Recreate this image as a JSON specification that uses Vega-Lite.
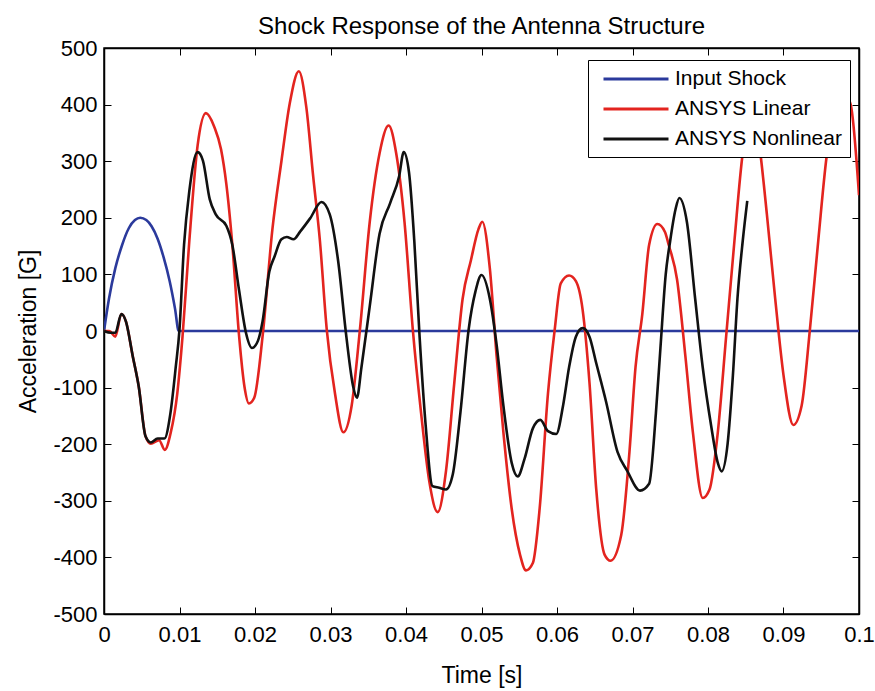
{
  "$schema": "https://vega.github.io/schema/vega-lite/v6.json",
  "width": 755,
  "height": 566,
  "autosize": {"type": "none"},
  "padding": {"left": 104, "top": 48, "right": 16, "bottom": 77},
  "background": "white",
  "title": {"text": "Shock Response of the Antenna Structure", "fontSize": 24, "fontWeight": "normal", "font": "Liberation Sans", "color": "#000", "offset": -21, "baseline": "alphabetic", "anchor": "middle"},
  "config": {
    "font": "Liberation Sans",
    "view": {"stroke": "#000", "strokeWidth": 1.5},
    "axis": {"labelFont": "Liberation Sans", "labelFontSize": 22, "labelColor": "#000", "titleFont": "Liberation Sans", "titleFontSize": 23, "titleFontWeight": "normal", "titleColor": "#000", "domainColor": "#000", "domainWidth": 1.5, "tickColor": "#000", "tickWidth": 1, "grid": false}
  },
  "datasets": {
    "curves": [
      {"t": 0.0, "a": 0, "s": "Input Shock"},
      {"t": 0.00066, "a": 57, "s": "Input Shock"},
      {"t": 0.0015, "a": 111, "s": "Input Shock"},
      {"t": 0.0024, "a": 152, "s": "Input Shock"},
      {"t": 0.0033, "a": 182, "s": "Input Shock"},
      {"t": 0.0041, "a": 196, "s": "Input Shock"},
      {"t": 0.0048, "a": 200, "s": "Input Shock"},
      {"t": 0.0056, "a": 196, "s": "Input Shock"},
      {"t": 0.0063, "a": 185, "s": "Input Shock"},
      {"t": 0.0071, "a": 163, "s": "Input Shock"},
      {"t": 0.0079, "a": 130, "s": "Input Shock"},
      {"t": 0.0087, "a": 88, "s": "Input Shock"},
      {"t": 0.0094, "a": 40, "s": "Input Shock"},
      {"t": 0.0099, "a": 0, "s": "Input Shock"},
      {"t": 0.1, "a": 0, "s": "Input Shock"},

      {"t": 0.0, "a": 0, "s": "ANSYS Linear"},
      {"t": 0.0007, "a": 0, "s": "ANSYS Linear"},
      {"t": 0.0015, "a": -10, "s": "ANSYS Linear"},
      {"t": 0.0023, "a": 30, "s": "ANSYS Linear"},
      {"t": 0.0029, "a": 17, "s": "ANSYS Linear"},
      {"t": 0.0038, "a": -44, "s": "ANSYS Linear"},
      {"t": 0.0046, "a": -98, "s": "ANSYS Linear"},
      {"t": 0.0055, "a": -186, "s": "ANSYS Linear"},
      {"t": 0.0062, "a": -199, "s": "ANSYS Linear"},
      {"t": 0.0073, "a": -193, "s": "ANSYS Linear"},
      {"t": 0.00805, "a": -210, "s": "ANSYS Linear"},
      {"t": 0.00885, "a": -179, "s": "ANSYS Linear"},
      {"t": 0.0097, "a": -111, "s": "ANSYS Linear"},
      {"t": 0.0104, "a": -10, "s": "ANSYS Linear"},
      {"t": 0.0113, "a": 159, "s": "ANSYS Linear"},
      {"t": 0.0124, "a": 328, "s": "ANSYS Linear"},
      {"t": 0.0135, "a": 385, "s": "ANSYS Linear"},
      {"t": 0.0146, "a": 361, "s": "ANSYS Linear"},
      {"t": 0.0155, "a": 321, "s": "ANSYS Linear"},
      {"t": 0.0162, "a": 260, "s": "ANSYS Linear"},
      {"t": 0.017, "a": 152, "s": "ANSYS Linear"},
      {"t": 0.0179, "a": -10, "s": "ANSYS Linear"},
      {"t": 0.0186, "a": -98, "s": "ANSYS Linear"},
      {"t": 0.0192, "a": -128, "s": "ANSYS Linear"},
      {"t": 0.0199, "a": -118, "s": "ANSYS Linear"},
      {"t": 0.021, "a": -10, "s": "ANSYS Linear"},
      {"t": 0.0223, "a": 179, "s": "ANSYS Linear"},
      {"t": 0.0235, "a": 300, "s": "ANSYS Linear"},
      {"t": 0.0246, "a": 402, "s": "ANSYS Linear"},
      {"t": 0.0258, "a": 459, "s": "ANSYS Linear"},
      {"t": 0.0268, "a": 395, "s": "ANSYS Linear"},
      {"t": 0.0277, "a": 274, "s": "ANSYS Linear"},
      {"t": 0.0286, "a": 159, "s": "ANSYS Linear"},
      {"t": 0.0295, "a": 3, "s": "ANSYS Linear"},
      {"t": 0.0306, "a": -111, "s": "ANSYS Linear"},
      {"t": 0.0317, "a": -179, "s": "ANSYS Linear"},
      {"t": 0.0328, "a": -132, "s": "ANSYS Linear"},
      {"t": 0.0339, "a": 3, "s": "ANSYS Linear"},
      {"t": 0.0352, "a": 193, "s": "ANSYS Linear"},
      {"t": 0.0365, "a": 314, "s": "ANSYS Linear"},
      {"t": 0.0377, "a": 363, "s": "ANSYS Linear"},
      {"t": 0.0387, "a": 314, "s": "ANSYS Linear"},
      {"t": 0.0398, "a": 193, "s": "ANSYS Linear"},
      {"t": 0.0409, "a": 3, "s": "ANSYS Linear"},
      {"t": 0.042, "a": -145, "s": "ANSYS Linear"},
      {"t": 0.0431, "a": -267, "s": "ANSYS Linear"},
      {"t": 0.0442, "a": -320, "s": "ANSYS Linear"},
      {"t": 0.0453, "a": -247, "s": "ANSYS Linear"},
      {"t": 0.0464, "a": -91, "s": "ANSYS Linear"},
      {"t": 0.0475, "a": 57, "s": "ANSYS Linear"},
      {"t": 0.0486, "a": 125, "s": "ANSYS Linear"},
      {"t": 0.0496, "a": 180, "s": "ANSYS Linear"},
      {"t": 0.0501, "a": 193, "s": "ANSYS Linear"},
      {"t": 0.0511, "a": 111, "s": "ANSYS Linear"},
      {"t": 0.052, "a": -44, "s": "ANSYS Linear"},
      {"t": 0.0529, "a": -179, "s": "ANSYS Linear"},
      {"t": 0.054, "a": -314, "s": "ANSYS Linear"},
      {"t": 0.0551, "a": -395, "s": "ANSYS Linear"},
      {"t": 0.0559, "a": -423, "s": "ANSYS Linear"},
      {"t": 0.0568, "a": -410, "s": "ANSYS Linear"},
      {"t": 0.0577, "a": -314, "s": "ANSYS Linear"},
      {"t": 0.0588, "a": -111, "s": "ANSYS Linear"},
      {"t": 0.0597, "a": 3, "s": "ANSYS Linear"},
      {"t": 0.0605, "a": 84, "s": "ANSYS Linear"},
      {"t": 0.0616, "a": 98, "s": "ANSYS Linear"},
      {"t": 0.0625, "a": 88, "s": "ANSYS Linear"},
      {"t": 0.0634, "a": 37, "s": "ANSYS Linear"},
      {"t": 0.0643, "a": -91, "s": "ANSYS Linear"},
      {"t": 0.0652, "a": -280, "s": "ANSYS Linear"},
      {"t": 0.0663, "a": -395, "s": "ANSYS Linear"},
      {"t": 0.0671, "a": -406, "s": "ANSYS Linear"},
      {"t": 0.0685, "a": -361, "s": "ANSYS Linear"},
      {"t": 0.0696, "a": -213, "s": "ANSYS Linear"},
      {"t": 0.0704, "a": -64, "s": "ANSYS Linear"},
      {"t": 0.0713, "a": 30, "s": "ANSYS Linear"},
      {"t": 0.0722, "a": 152, "s": "ANSYS Linear"},
      {"t": 0.0733, "a": 189, "s": "ANSYS Linear"},
      {"t": 0.0743, "a": 175, "s": "ANSYS Linear"},
      {"t": 0.0748, "a": 152, "s": "ANSYS Linear"},
      {"t": 0.0759, "a": 91, "s": "ANSYS Linear"},
      {"t": 0.077, "a": -44, "s": "ANSYS Linear"},
      {"t": 0.078, "a": -179, "s": "ANSYS Linear"},
      {"t": 0.0793, "a": -295, "s": "ANSYS Linear"},
      {"t": 0.0802, "a": -280, "s": "ANSYS Linear"},
      {"t": 0.0813, "a": -179, "s": "ANSYS Linear"},
      {"t": 0.0824, "a": -10, "s": "ANSYS Linear"},
      {"t": 0.0835, "a": 159, "s": "ANSYS Linear"},
      {"t": 0.0846, "a": 314, "s": "ANSYS Linear"},
      {"t": 0.0855, "a": 375, "s": "ANSYS Linear"},
      {"t": 0.0862, "a": 385, "s": "ANSYS Linear"},
      {"t": 0.087, "a": 307, "s": "ANSYS Linear"},
      {"t": 0.0878, "a": 206, "s": "ANSYS Linear"},
      {"t": 0.0889, "a": 57, "s": "ANSYS Linear"},
      {"t": 0.09, "a": -78, "s": "ANSYS Linear"},
      {"t": 0.0913, "a": -166, "s": "ANSYS Linear"},
      {"t": 0.0924, "a": -132, "s": "ANSYS Linear"},
      {"t": 0.0935, "a": 3, "s": "ANSYS Linear"},
      {"t": 0.0946, "a": 159, "s": "ANSYS Linear"},
      {"t": 0.0957, "a": 307, "s": "ANSYS Linear"},
      {"t": 0.0968, "a": 390, "s": "ANSYS Linear"},
      {"t": 0.0979, "a": 425, "s": "ANSYS Linear"},
      {"t": 0.0989, "a": 400, "s": "ANSYS Linear"},
      {"t": 0.1, "a": 240, "s": "ANSYS Linear"},

      {"t": 0.0, "a": 0, "s": "ANSYS Nonlinear"},
      {"t": 0.0009, "a": -3, "s": "ANSYS Nonlinear"},
      {"t": 0.0015, "a": -3, "s": "ANSYS Nonlinear"},
      {"t": 0.0023, "a": 30, "s": "ANSYS Nonlinear"},
      {"t": 0.0029, "a": 17, "s": "ANSYS Nonlinear"},
      {"t": 0.0038, "a": -44, "s": "ANSYS Nonlinear"},
      {"t": 0.0046, "a": -98, "s": "ANSYS Nonlinear"},
      {"t": 0.0055, "a": -186, "s": "ANSYS Nonlinear"},
      {"t": 0.0062, "a": -197, "s": "ANSYS Nonlinear"},
      {"t": 0.0071, "a": -190, "s": "ANSYS Nonlinear"},
      {"t": 0.008, "a": -190, "s": "ANSYS Nonlinear"},
      {"t": 0.0088, "a": -145, "s": "ANSYS Nonlinear"},
      {"t": 0.0095, "a": -64, "s": "ANSYS Nonlinear"},
      {"t": 0.01, "a": 3, "s": "ANSYS Nonlinear"},
      {"t": 0.0106, "a": 152, "s": "ANSYS Nonlinear"},
      {"t": 0.0113, "a": 247, "s": "ANSYS Nonlinear"},
      {"t": 0.0124, "a": 316, "s": "ANSYS Nonlinear"},
      {"t": 0.0131, "a": 301, "s": "ANSYS Nonlinear"},
      {"t": 0.014, "a": 233, "s": "ANSYS Nonlinear"},
      {"t": 0.0148, "a": 206, "s": "ANSYS Nonlinear"},
      {"t": 0.0162, "a": 186, "s": "ANSYS Nonlinear"},
      {"t": 0.017, "a": 152, "s": "ANSYS Nonlinear"},
      {"t": 0.0179, "a": 71, "s": "ANSYS Nonlinear"},
      {"t": 0.0188, "a": -3, "s": "ANSYS Nonlinear"},
      {"t": 0.0196, "a": -30, "s": "ANSYS Nonlinear"},
      {"t": 0.0204, "a": -17, "s": "ANSYS Nonlinear"},
      {"t": 0.021, "a": 17, "s": "ANSYS Nonlinear"},
      {"t": 0.0219, "a": 105, "s": "ANSYS Nonlinear"},
      {"t": 0.0226, "a": 132, "s": "ANSYS Nonlinear"},
      {"t": 0.0235, "a": 162, "s": "ANSYS Nonlinear"},
      {"t": 0.0242, "a": 166, "s": "ANSYS Nonlinear"},
      {"t": 0.0251, "a": 162, "s": "ANSYS Nonlinear"},
      {"t": 0.026, "a": 176, "s": "ANSYS Nonlinear"},
      {"t": 0.0273, "a": 199, "s": "ANSYS Nonlinear"},
      {"t": 0.0288, "a": 228, "s": "ANSYS Nonlinear"},
      {"t": 0.0299, "a": 206, "s": "ANSYS Nonlinear"},
      {"t": 0.031, "a": 125, "s": "ANSYS Nonlinear"},
      {"t": 0.0321, "a": -10, "s": "ANSYS Nonlinear"},
      {"t": 0.033, "a": -98, "s": "ANSYS Nonlinear"},
      {"t": 0.0335, "a": -118, "s": "ANSYS Nonlinear"},
      {"t": 0.0341, "a": -64, "s": "ANSYS Nonlinear"},
      {"t": 0.0352, "a": 44, "s": "ANSYS Nonlinear"},
      {"t": 0.0365, "a": 172, "s": "ANSYS Nonlinear"},
      {"t": 0.0379, "a": 226, "s": "ANSYS Nonlinear"},
      {"t": 0.0391, "a": 274, "s": "ANSYS Nonlinear"},
      {"t": 0.0397, "a": 316, "s": "ANSYS Nonlinear"},
      {"t": 0.0404, "a": 280, "s": "ANSYS Nonlinear"},
      {"t": 0.0411, "a": 159, "s": "ANSYS Nonlinear"},
      {"t": 0.0418, "a": -10, "s": "ANSYS Nonlinear"},
      {"t": 0.0426, "a": -166, "s": "ANSYS Nonlinear"},
      {"t": 0.0435, "a": -274, "s": "ANSYS Nonlinear"},
      {"t": 0.0444, "a": -277, "s": "ANSYS Nonlinear"},
      {"t": 0.0453, "a": -280, "s": "ANSYS Nonlinear"},
      {"t": 0.0462, "a": -253, "s": "ANSYS Nonlinear"},
      {"t": 0.0472, "a": -145, "s": "ANSYS Nonlinear"},
      {"t": 0.0483, "a": 3, "s": "ANSYS Nonlinear"},
      {"t": 0.0492, "a": 70, "s": "ANSYS Nonlinear"},
      {"t": 0.05, "a": 99, "s": "ANSYS Nonlinear"},
      {"t": 0.0511, "a": 57, "s": "ANSYS Nonlinear"},
      {"t": 0.052, "a": -24, "s": "ANSYS Nonlinear"},
      {"t": 0.0529, "a": -132, "s": "ANSYS Nonlinear"},
      {"t": 0.054, "a": -233, "s": "ANSYS Nonlinear"},
      {"t": 0.0548, "a": -257, "s": "ANSYS Nonlinear"},
      {"t": 0.0557, "a": -226, "s": "ANSYS Nonlinear"},
      {"t": 0.0568, "a": -172, "s": "ANSYS Nonlinear"},
      {"t": 0.0578, "a": -157, "s": "ANSYS Nonlinear"},
      {"t": 0.0588, "a": -177, "s": "ANSYS Nonlinear"},
      {"t": 0.0599, "a": -182, "s": "ANSYS Nonlinear"},
      {"t": 0.0608, "a": -132, "s": "ANSYS Nonlinear"},
      {"t": 0.0616, "a": -64, "s": "ANSYS Nonlinear"},
      {"t": 0.0625, "a": -10, "s": "ANSYS Nonlinear"},
      {"t": 0.0634, "a": 5, "s": "ANSYS Nonlinear"},
      {"t": 0.0643, "a": -10, "s": "ANSYS Nonlinear"},
      {"t": 0.0652, "a": -57, "s": "ANSYS Nonlinear"},
      {"t": 0.0665, "a": -125, "s": "ANSYS Nonlinear"},
      {"t": 0.068, "a": -213, "s": "ANSYS Nonlinear"},
      {"t": 0.0693, "a": -247, "s": "ANSYS Nonlinear"},
      {"t": 0.071, "a": -282, "s": "ANSYS Nonlinear"},
      {"t": 0.0722, "a": -270, "s": "ANSYS Nonlinear"},
      {"t": 0.0731, "a": -145, "s": "ANSYS Nonlinear"},
      {"t": 0.0737, "a": -30, "s": "ANSYS Nonlinear"},
      {"t": 0.0744, "a": 100, "s": "ANSYS Nonlinear"},
      {"t": 0.075, "a": 160, "s": "ANSYS Nonlinear"},
      {"t": 0.0757, "a": 215, "s": "ANSYS Nonlinear"},
      {"t": 0.0762, "a": 235, "s": "ANSYS Nonlinear"},
      {"t": 0.0772, "a": 193, "s": "ANSYS Nonlinear"},
      {"t": 0.0783, "a": 57, "s": "ANSYS Nonlinear"},
      {"t": 0.0793, "a": -64, "s": "ANSYS Nonlinear"},
      {"t": 0.0804, "a": -166, "s": "ANSYS Nonlinear"},
      {"t": 0.0813, "a": -233, "s": "ANSYS Nonlinear"},
      {"t": 0.0818, "a": -248, "s": "ANSYS Nonlinear"},
      {"t": 0.0826, "a": -199, "s": "ANSYS Nonlinear"},
      {"t": 0.0833, "a": -78, "s": "ANSYS Nonlinear"},
      {"t": 0.0839, "a": 57, "s": "ANSYS Nonlinear"},
      {"t": 0.0846, "a": 159, "s": "ANSYS Nonlinear"},
      {"t": 0.0852, "a": 230, "s": "ANSYS Nonlinear"}
    ]
  },
  "layer": [
    {
      "data": {"name": "curves"},
      "mark": {"type": "line", "strokeWidth": 2.6, "clip": true, "interpolate": "monotone"},
      "encoding": {
        "x": {"field": "t", "type": "quantitative", "scale": {"domain": [0, 0.1], "nice": false, "zero": false},
              "axis": {"orient": "bottom", "title": "Time [s]", "values": [0, 0.01, 0.02, 0.03, 0.04, 0.05, 0.06, 0.07, 0.08, 0.09, 0.1], "format": "~g", "tickSize": -7, "labelPadding": 17, "titlePadding": 19, "labelFlush": false}},
        "y": {"field": "a", "type": "quantitative", "scale": {"domain": [-500, 500], "nice": false, "zero": false},
              "axis": {"orient": "left", "title": "Acceleration [G]", "values": [-500, -400, -300, -200, -100, 0, 100, 200, 300, 400, 500], "labelExpr": "toString(datum.value)", "tickSize": -7, "labelPadding": 14, "titlePadding": 12}},
        "color": {"field": "s", "type": "nominal",
                  "scale": {"domain": ["Input Shock", "ANSYS Linear", "ANSYS Nonlinear"], "range": ["#2B3A9C", "#E3241F", "#111111"]},
                  "legend": {"title": null, "orient": "none", "legendX": 484, "legendY": 12, "symbolType": "M-3.5,0H3.5", "symbolSize": 345, "symbolStrokeWidth": 3, "symbolOffset": 29, "labelFontSize": 21, "labelFont": "Liberation Sans", "labelColor": "#000", "labelOffset": 28, "labelLimit": 400, "rowPadding": 9, "padding": 8, "strokeColor": "#000", "fillColor": "#fff", "cornerRadius": 0}},
        "order": {"field": "t", "type": "quantitative"}
      }
    },
    {
      "data": {"values": [{"t": 0, "a": 0}]},
      "mark": {"type": "point", "opacity": 0},
      "encoding": {
        "x": {"field": "t", "type": "quantitative", "axis": {"orient": "top", "title": null, "labels": false, "values": [0, 0.01, 0.02, 0.03, 0.04, 0.05, 0.06, 0.07, 0.08, 0.09, 0.1], "tickSize": -7, "domain": true}},
        "y": {"field": "a", "type": "quantitative", "axis": {"orient": "right", "title": null, "labels": false, "values": [-500, -400, -300, -200, -100, 0, 100, 200, 300, 400, 500], "tickSize": -7}}
      }
    }
  ],
  "resolve": {"axis": {"x": "independent", "y": "independent"}}
}
